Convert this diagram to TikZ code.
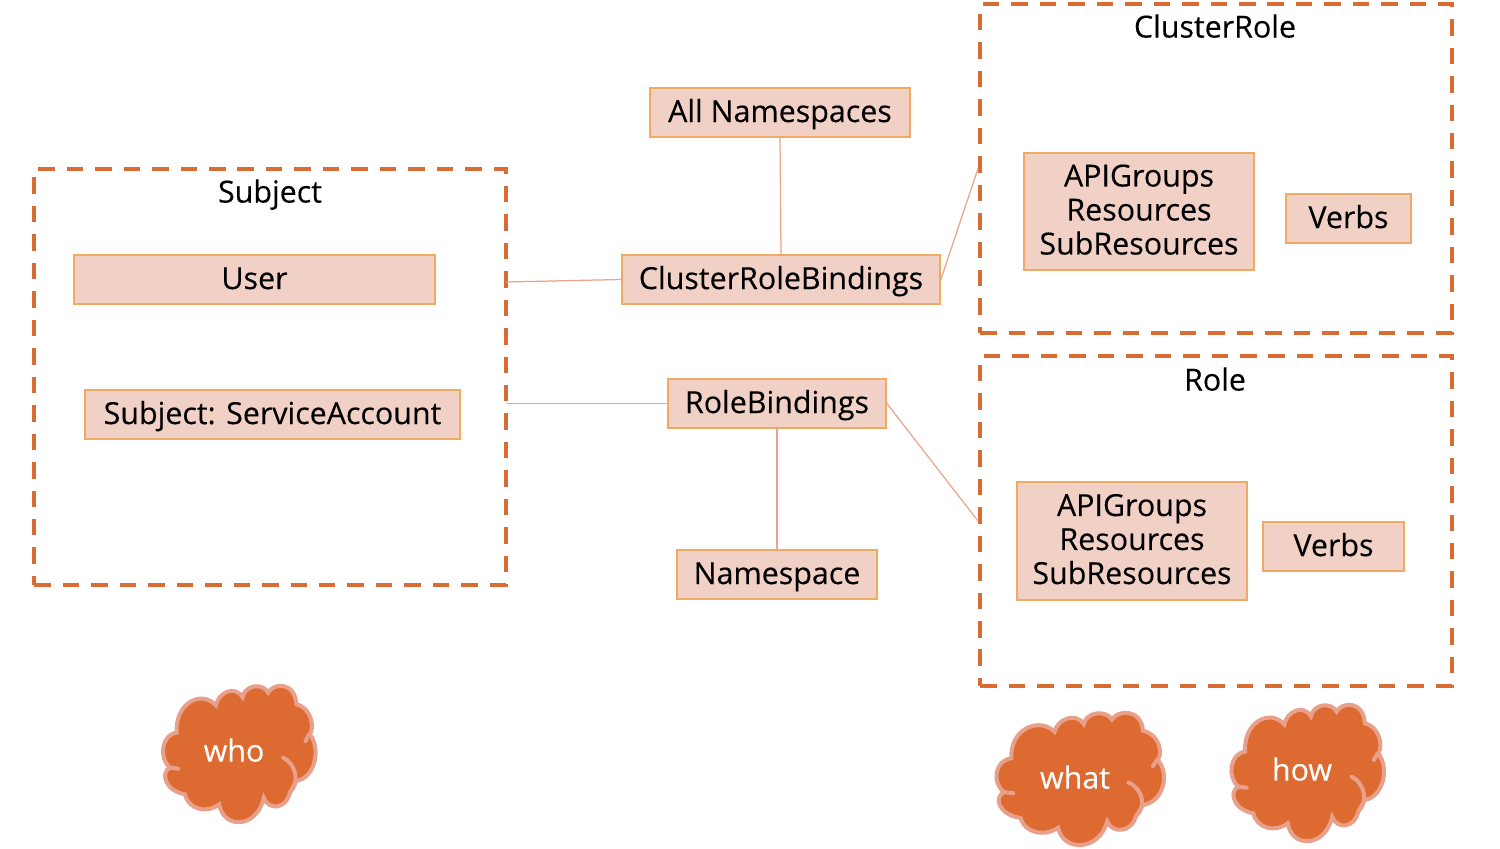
\documentclass[tikz,border=0pt]{standalone}
\usepackage{fontspec}
\setmainfont[FakeBold=0.25]{Open Sans}
\usepackage{tikz}
\usetikzlibrary{calc}
\definecolor{dashorange}{RGB}{217,107,51}
\definecolor{boxfill}{RGB}{241,208,198}
\definecolor{boxline}{RGB}{240,170,100}
\definecolor{linkline}{RGB}{232,165,140}
\definecolor{cloudfill}{RGB}{221,107,49}
\definecolor{cloudline}{RGB}{233,160,138}

\begin{document}
\begin{tikzpicture}[x=0.02cm,y=-0.02cm,
    font=\fontsize{17.3}{19.35}\selectfont,
    groupbox/.style={draw=dashorange,line width=0.08cm,dash pattern=on 0.33cm off 0.24cm,inner sep=0pt},
    itembox/.style={draw=boxline,fill=boxfill,line width=0.035cm,inner sep=0pt,align=center},
    oneline/.style={text height=12.35pt,text depth=1.5pt},
    threeline/.style={text depth=2.3pt},
    link/.style={draw=linkline,line width=0.025cm},
    pics/cloudblob/.style={code={
      \draw[fill=cloudfill,draw=cloudline,line width=0.08cm]
        (110,190) .. controls (105,100) and (185,60) .. (228,108)
        .. controls (235,70) and (285,45) .. (308,84)
        .. controls (315,45) and (370,40) .. (385,70)
        .. controls (400,40) and (465,35) .. (470,105)
        .. controls (515,115) and (525,175) .. (510,195)
        .. controls (545,240) and (525,325) .. (470,335)
        -- (450,370)
        .. controls (440,420) and (385,425) .. (372,385)
        .. controls (350,480) and (250,480) .. (238,405)
        .. controls (200,435) and (145,420) .. (135,375)
        .. controls (75,365) and (60,310) .. (90,295)
        .. controls (55,265) and (65,195) .. (110,190) -- cycle;
      \draw[draw=cloudline,line width=0.08cm,line cap=round]
        (430,265) .. controls (470,285) and (480,340) .. (450,370);
      \draw[draw=cloudline,line width=0.08cm,line cap=round] (508,195) -- (497,215);
      \draw[draw=cloudline,line width=0.08cm,line cap=round] (90,295) -- (115,298);
    }}]
  \useasboundingbox (0,0) rectangle (1500,848);

  \node[groupbox,minimum width=9.44cm,minimum height=8.32cm] (subjectbox) at (270,377) {};
  \node[groupbox,minimum width=9.44cm,minimum height=6.58cm] (clusterrolebox) at (1216,168.5) {};
  \node[groupbox,minimum width=9.44cm,minimum height=6.6cm] (rolebox) at (1216,521) {};

  \node[oneline] (subjecttitle) at (270,193) {Subject};
  \node[oneline] (clusterroletitle) at (1215,28) {ClusterRole};
  \node[oneline] (roletitle) at (1215,381) {Role};

  \node[itembox,oneline,minimum width=7.22cm,minimum height=0.98cm] (user) at (254.5,279.5) {User};
  \node[itembox,oneline,minimum width=7.5cm,minimum height=0.98cm] (serviceaccount) at (272.5,414.5) {Subject: ServiceAccount};
  \node[itembox,oneline,minimum width=5.2cm,minimum height=0.98cm] (allns) at (780,112.5) {All Namespaces};
  \node[itembox,oneline,minimum width=6.36cm,minimum height=0.98cm] (crb) at (781,279.5) {ClusterRoleBindings};
  \node[itembox,oneline,minimum width=4.36cm,minimum height=0.98cm] (rb) at (777,403.5) {RoleBindings};
  \node[itembox,oneline,minimum width=4cm,minimum height=0.98cm] (ns) at (777,574.5) {Namespace};
  \node[itembox,threeline,minimum width=4.6cm,minimum height=2.34cm] (crapi) at (1139,211.5) {APIGroups\\Resources\\SubResources};
  \node[itembox,oneline,minimum width=2.5cm,minimum height=0.98cm] (crverbs) at (1348.5,218.5) {Verbs};
  \node[itembox,threeline,minimum width=4.6cm,minimum height=2.36cm] (rapi) at (1132,541) {APIGroups\\Resources\\SubResources};
  \node[itembox,oneline,minimum width=2.82cm,minimum height=0.98cm] (rverbs) at (1333.5,546.5) {Verbs};

  \coordinate (subjectcrb) at (506,282);
  \coordinate (subjectrb) at (506,403.5);
  \draw[link] (subjectcrb) -- (crb.west);
  \draw[link] (subjectrb) -- (rb.west);
  \draw[link] (allns.south) -- (crb.north);
  \draw[link] (rb.south) -- (ns.north);
  \draw[link] (crb.east) -- (clusterrolebox.west);
  \draw[link] (rb.east) -- (rolebox.west);

  \pic[shift={(140,669.4)},xscale=0.333,yscale=0.333] {cloudblob};
  \pic[shift={(971.2,696.9)},xscale=0.3656,yscale=0.323] {cloudblob};
  \pic[shift={(1208.4,688.4)},xscale=0.333,yscale=0.333] {cloudblob};

  \node[white,oneline] (who) at (234,752) {who};
  \node[white,oneline] (what) at (1075,779) {what};
  \node[white,oneline] (how) at (1302,771) {how};
\end{tikzpicture}
\end{document}
